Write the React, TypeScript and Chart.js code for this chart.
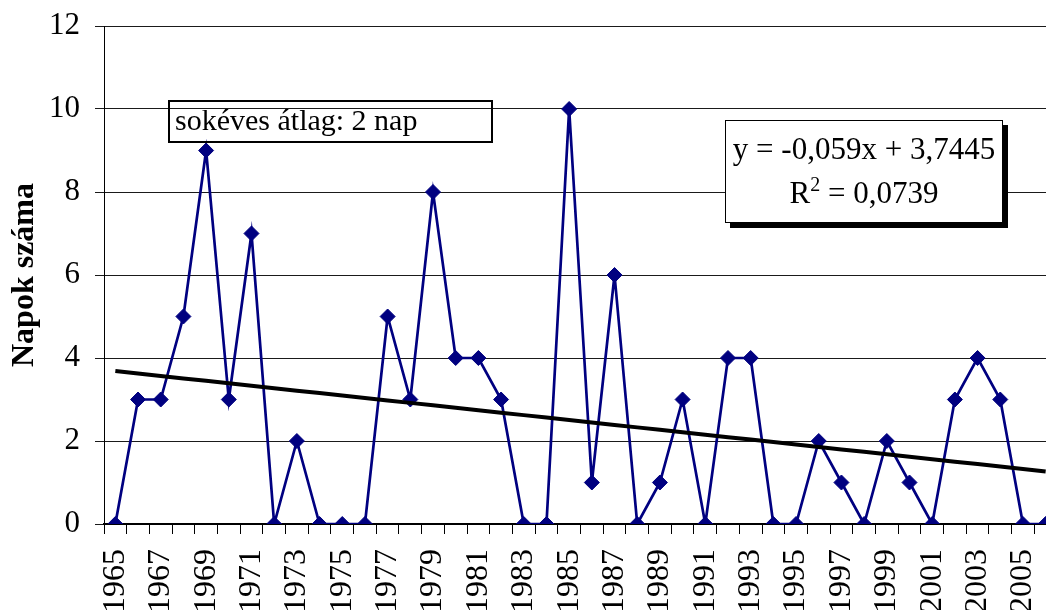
import { useEffect, useRef } from 'react';
import { Chart, registerables } from 'chart.js';

Chart.register(...registerables);

// Évek (kategóriák)
const years = [
  '1965', '1966', '1967', '1968', '1969', '1970', '1971', '1972', '1973', '1974',
  '1975', '1976', '1977', '1978', '1979', '1980', '1981', '1982', '1983', '1984',
  '1985', '1986', '1987', '1988', '1989', '1990', '1991', '1992', '1993', '1994',
  '1995', '1996', '1997', '1998', '1999', '2000', '2001', '2002', '2003', '2004',
  '2005', '2006',
];

// Napok száma évenként
const napok = [
  0, 3, 3, 5, 9, 3, 7, 0, 2, 0,
  0, 0, 5, 3, 8, 4, 4, 3, 0, 0,
  10, 1, 6, 0, 1, 3, 0, 4, 4, 0,
  0, 2, 1, 0, 2, 1, 0, 3, 4, 3,
  0, 0,
];

// Lineáris trend paraméterei (x = az év sorszáma, 1-től)
const trendSlope = -0.059;
const trendIntercept = 3.7445;
const rSquared = 0.0739;
const averageDays = 2;

const Y_MIN = 0;
const Y_MAX = 12;
const Y_STEP = 2;

const SERIF = '"Liberation Serif", "Times New Roman", serif';

const huNum = (v: number) => String(v).replace('.', ',');

const trendValues = years.map((_, i) => trendSlope * (i + 1) + trendIntercept);

const annotationPlugin = {
  id: 'annotationBoxes',
  afterDraw(chart: any) {
    const ctx: CanvasRenderingContext2D = chart.ctx;
    ctx.save();

    // Sokéves átlag felirat (átlátszó keret)
    ctx.strokeStyle = '#000';
    ctx.lineWidth = 2;
    ctx.strokeRect(169, 101, 323, 41);
    ctx.fillStyle = '#000';
    ctx.font = `30px ${SERIF}`;
    ctx.textAlign = 'left';
    ctx.textBaseline = 'alphabetic';
    ctx.fillText(`sokéves átlag: ${averageDays} nap`, 175, 130);

    // Trendegyenlet doboza árnyékkal
    const bx = 725, by = 120, bw = 278, bh = 103;
    ctx.fillStyle = '#000';
    ctx.fillRect(bx + 5, by + 5, bw, bh);
    ctx.fillStyle = '#fff';
    ctx.fillRect(bx, by, bw, bh);
    ctx.lineWidth = 1;
    ctx.strokeStyle = '#000';
    ctx.strokeRect(bx + 0.5, by + 0.5, bw - 1, bh - 1);

    const cx = bx + bw / 2;
    ctx.fillStyle = '#000';
    ctx.font = `31px ${SERIF}`;
    ctx.textAlign = 'center';
    const sign = trendIntercept >= 0 ? '+' : '-';
    ctx.fillText(`y = ${huNum(trendSlope)}x ${sign} ${huNum(Math.abs(trendIntercept))}`, cx, 159);

    // R² sor, felső indexszel
    const mainFont = `31px ${SERIF}`;
    const supFont = `20px ${SERIF}`;
    const partR = 'R';
    const partSup = '2';
    const partRest = ` = ${huNum(rSquared)}`;
    ctx.font = mainFont;
    const wR = ctx.measureText(partR).width;
    const wRest = ctx.measureText(partRest).width;
    ctx.font = supFont;
    const wSup = ctx.measureText(partSup).width;
    const total = wR + wSup + wRest;
    let x = cx - total / 2;
    ctx.textAlign = 'left';
    ctx.font = mainFont;
    ctx.fillText(partR, x, 203);
    x += wR;
    ctx.font = supFont;
    ctx.fillText(partSup, x, 191);
    x += wSup;
    ctx.font = mainFont;
    ctx.fillText(partRest, x, 203);

    ctx.restore();
  },
};

export default function App() {
  const canvasRef = useRef<HTMLCanvasElement | null>(null);

  useEffect(() => {
    const canvas = canvasRef.current;
    if (!canvas) return;

    const chart = new Chart(canvas, {
      type: 'line',
      data: {
        labels: years,
        datasets: [
          {
            label: 'Lineáris trend',
            data: trendValues,
            borderColor: '#000',
            borderWidth: 4,
            pointRadius: 0,
            pointHoverRadius: 0,
            fill: false,
            tension: 0,
            order: 0,
          },
          {
            label: 'Napok száma',
            data: napok,
            borderColor: '#000080',
            backgroundColor: '#000080',
            borderWidth: 2.7,
            pointStyle: 'rectRot',
            pointRadius: 7.5,
            pointHoverRadius: 7.5,
            pointBackgroundColor: '#000080',
            pointBorderColor: '#000080',
            pointBorderWidth: 1,
            fill: false,
            tension: 0,
            order: 1,
          },
        ],
      },
      options: {
        responsive: false,
        animation: false,
        events: [],
        layout: {
          autoPadding: false,
          padding: { top: 26, left: 0, right: 0, bottom: 0 },
        },
        plugins: {
          legend: { display: false },
          tooltip: { enabled: false },
        },
        scales: {
          x: {
            type: 'category',
            offset: true,
            grid: {
              display: true,
              offset: true,
              drawOnChartArea: false,
              drawTicks: true,
              tickLength: 10,
              color: '#000',
              lineWidth: 1,
            },
            border: { display: true, color: '#000', width: 2 },
            ticks: {
              autoSkip: false,
              minRotation: 90,
              maxRotation: 90,
              padding: 15,
              color: '#000',
              font: { family: SERIF, size: 32 },
              callback: (_v: any, idx: number) => (idx % 2 === 0 ? years[idx] : ''),
            },
            afterFit: (scale: any) => {
              scale.height = 86;
              scale.paddingLeft = 0;
              scale.paddingRight = 0;
            },
          },
          y: {
            min: Y_MIN,
            max: Y_MAX,
            grid: {
              color: '#1a1a1a',
              lineWidth: 1,
              tickLength: 9,
              drawTicks: true,
            },
            border: { display: true, color: '#000', width: 1 },
            ticks: {
              stepSize: Y_STEP,
              padding: 15,
              color: '#000',
              font: { family: SERIF, size: 31 },
            },
            title: {
              display: true,
              text: 'Napok száma',
              color: '#000',
              font: { family: SERIF, size: 32, weight: 'bold' },
              padding: { top: 6, bottom: 0 },
            },
            afterFit: (scale: any) => {
              scale.width = 104;
              scale.paddingTop = 0;
              scale.paddingBottom = 0;
            },
          },
        },
      },
      plugins: [annotationPlugin],
    } as any);

    return () => {
      chart.destroy();
    };
  }, []);

  return (
    <div
      style={{
        position: 'fixed',
        left: 0,
        top: 0,
        width: 1046,
        height: 610,
        overflow: 'hidden',
        background: '#fff',
      }}
    >
      <canvas ref={canvasRef} width={1057} height={610} style={{ display: 'block' }} />
    </div>
  );
}
